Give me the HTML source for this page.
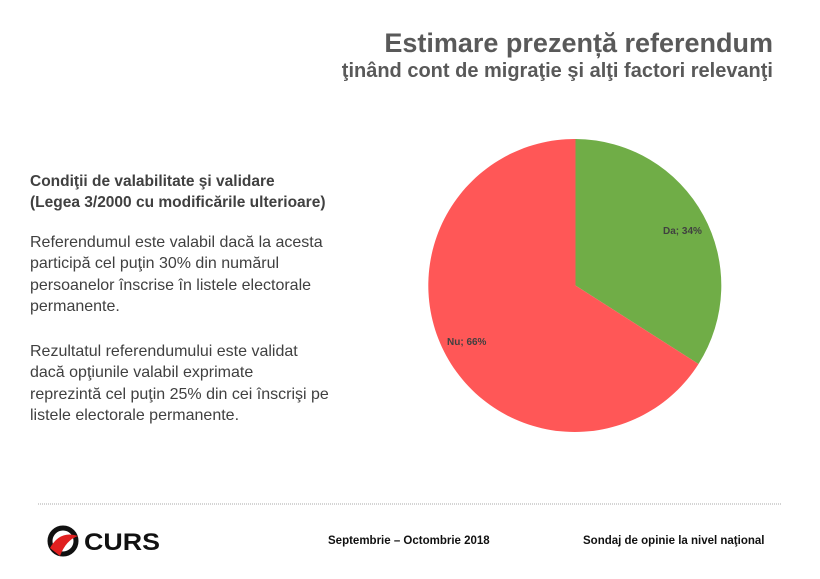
<!DOCTYPE html>
<html><head><meta charset="utf-8"><style>
body{margin:0;width:820px;height:579px;background:#fff;position:relative;overflow:hidden;font-family:"Liberation Sans",sans-serif}
.t{position:absolute;white-space:nowrap}
.h1{right:47px;top:28px;font-size:27px;font-weight:bold;color:#595959}
.h2{right:47px;top:60px;font-size:20px;font-weight:bold;color:#595959}
.l{left:30px;font-size:16px;color:#404040}
.b{font-weight:bold;font-size:15.5px}
.f{font-size:11.5px;font-weight:bold;color:#111;top:535px}
</style></head><body>
<div class="t h1">Estimare prezență referendum</div>
<div class="t h2">ţinând cont de migraţie şi alţi factori relevanţi</div>
<div class="t l b" style="top:173px">Condiţii de valabilitate şi validare</div>
<div class="t l b" style="top:194px">(Legea 3/2000 cu modificările ulterioare)</div>
<div class="t l" style="top:234px">Referendumul este valabil dacă la acesta</div>
<div class="t l" style="top:255px">participă cel puţin 30% din numărul</div>
<div class="t l" style="top:277px">persoanelor înscrise în listele electorale</div>
<div class="t l" style="top:298px">permanente.</div>
<div class="t l" style="top:343px">Rezultatul referendumului este validat</div>
<div class="t l" style="top:364px">dacă opţiunile valabil exprimate</div>
<div class="t l" style="top:386px">reprezintă cel puţin 25% din cei înscrişi pe</div>
<div class="t l" style="top:407px">listele electorale permanente.</div>
<svg width="820" height="579" style="position:absolute;left:0;top:0">
<path d="M575.5,285.5 L575.5,139 A146.5,146.5 0 0 1 698.5,364 Z" fill="#70ad47"/>
<path d="M575.5,285.5 L698.5,364 A146.5,146.5 0 1 1 575.5,139 Z" fill="#ff5757"/>
<text x="663" y="234" font-size="10" font-weight="bold" fill="#404040" font-family="Liberation Sans">Da; 34%</text>
<text x="447" y="345" font-size="10" font-weight="bold" fill="#404040" font-family="Liberation Sans">Nu; 66%</text>
<line x1="38" y1="504" x2="782" y2="504" stroke="#aaa" stroke-width="1" stroke-dasharray="1,1"/>
<circle cx="63" cy="541" r="13" fill="none" stroke="#111" stroke-width="5"/>
<path d="M50,548 Q60,530 78,536 Q66,540 60,556 Z" fill="#e02020"/>
<text x="84" y="550" font-size="24" font-weight="bold" fill="#111" font-family="Liberation Sans" textLength="76" lengthAdjust="spacingAndGlyphs">CURS</text>
</svg>
<div class="t f" style="left:328px">Septembrie – Octombrie 2018</div>
<div class="t f" style="left:583px">Sondaj de opinie la nivel naţional</div>
</body></html>
